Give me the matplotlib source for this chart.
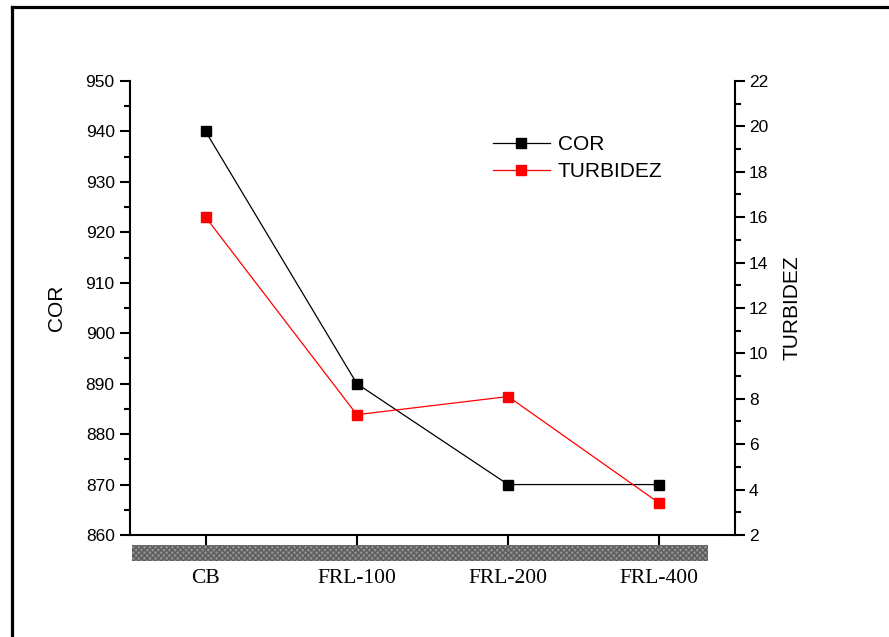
import matplotlib
matplotlib.use("Agg")
import matplotlib.pyplot as plt
from matplotlib.lines import Line2D
from matplotlib.patches import Rectangle
from matplotlib.ticker import MultipleLocator

categories = ["CB", "FRL-100", "FRL-200", "FRL-400"]
cor = [940, 890, 870, 870]
turbidez = [16.0, 7.3, 8.1, 3.4]

SANS = ["Liberation Sans", "DejaVu Sans"]
SERIF = ["Liberation Serif", "DejaVu Serif"]

W, H = 889, 637
fig = plt.figure(figsize=(W / 100, H / 100), dpi=100)
ax = fig.add_axes([130 / W, 1 - 535 / H, 605 / W, 454 / H])
ax2 = ax.twinx()

x = list(range(1, len(categories) + 1))
l1, = ax.plot(x, cor, color="black", lw=0.9, marker="s", ms=6.5, mfc="black", mec="black", label="COR", zorder=3)
l2, = ax2.plot(x, turbidez, color="red", lw=0.9, marker="s", ms=6.5, mfc="red", mec="red", label="TURBIDEZ", zorder=3)

ax.set_xlim(0.5, 4.5)
ax.set_ylim(860, 950)
ax2.set_ylim(2, 22)
ax.yaxis.set_major_locator(MultipleLocator(10))
ax.yaxis.set_minor_locator(MultipleLocator(5))
ax2.yaxis.set_major_locator(MultipleLocator(2))
ax2.yaxis.set_minor_locator(MultipleLocator(1))
ax.set_xticks(x)
ax.set_xticklabels(categories, fontfamily=SERIF, fontsize=15.5)

for a in (ax, ax2):
    a.spines["top"].set_visible(False)
    for s in ("left", "right", "bottom"):
        a.spines[s].set_linewidth(1.5)
ax.spines["right"].set_visible(False)
ax2.spines["left"].set_visible(False)
ax2.spines["bottom"].set_visible(False)

ax.tick_params(axis="y", which="major", direction="out", length=7, width=1.5, labelsize=12.5, pad=4)
ax.tick_params(axis="y", which="minor", direction="out", length=4, width=1.5)
ax2.tick_params(axis="y", which="major", direction="out", length=7, width=1.5, labelsize=12.5, pad=3)
ax2.tick_params(axis="y", which="minor", direction="out", length=4, width=1.5)
ax.tick_params(axis="x", which="major", direction="out", length=7.5, width=1.5, pad=17)
for lab in ax.get_yticklabels() + ax2.get_yticklabels():
    lab.set_fontfamily(SANS)

ax.set_ylabel("COR", fontfamily=SANS, fontsize=15, labelpad=14)
ax2.set_ylabel("TURBIDEZ", fontfamily=SANS, fontsize=15, labelpad=10)

# hatched strip under the x axis
strip = Rectangle((2 / 605, -26 / 454), 576 / 605, 16 / 454, transform=ax.transAxes,
                  facecolor="#8f8f8f", edgecolor="#5c5c5c", hatch="xxxxxx", lw=0,
                  clip_on=False, zorder=1)
ax.add_patch(strip)

leg = ax.legend(handles=[l1, l2], loc="upper left", bbox_to_anchor=(355 / 605, 1 - 46 / 454),
                frameon=False, prop={"family": SANS, "size": 15}, handlelength=2.7,
                handletextpad=0.4, labelspacing=0.38, borderaxespad=0)

# outer frame
fig.add_artist(Line2D([11.5 / W, 11.5 / W], [0, 1 - 6.5 / H], transform=fig.transFigure, color="black", lw=2.3))
fig.add_artist(Line2D([11.5 / W, 1], [1 - 6.5 / H, 1 - 6.5 / H], transform=fig.transFigure, color="black", lw=2.3))

fig.savefig("out.png", dpi=100)
